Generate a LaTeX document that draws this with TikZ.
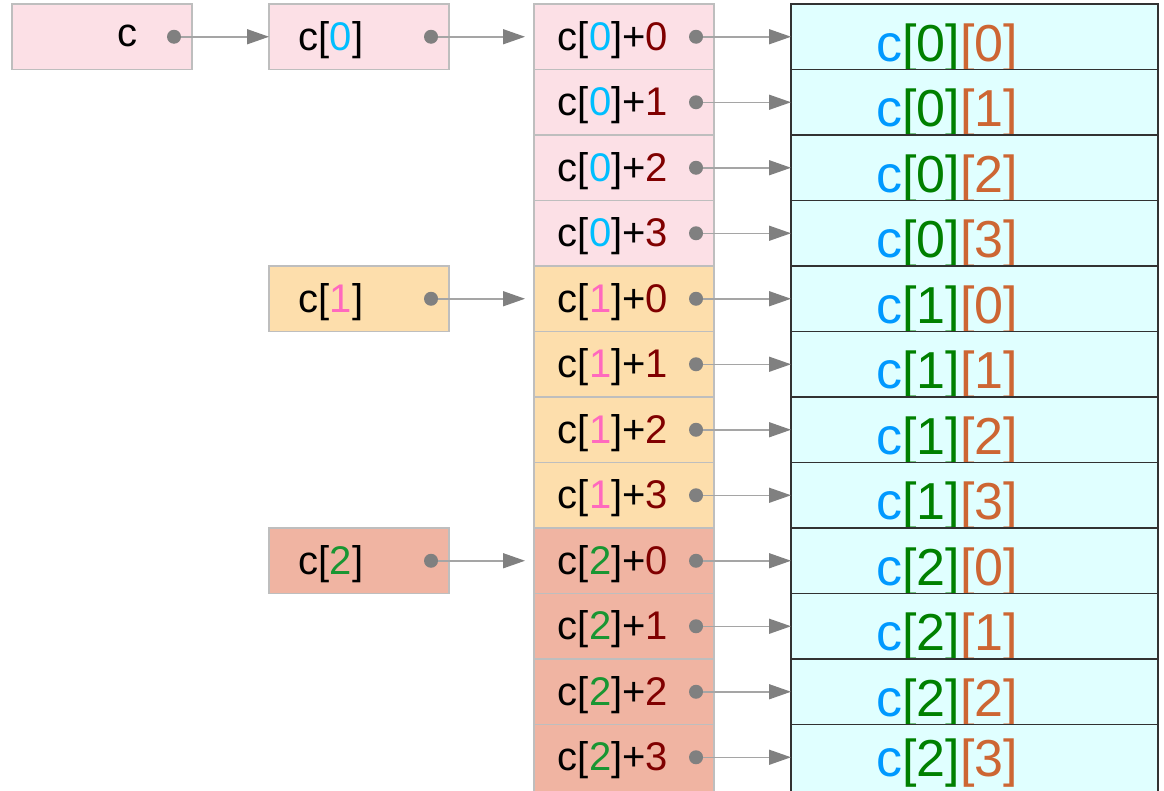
\documentclass[tikz,border=0pt]{standalone}
\usepackage{fontspec}
\setmainfont{Liberation Sans}
\usetikzlibrary{arrows.meta}
\definecolor{bgpink}{RGB}{252,224,230}
\definecolor{bgorange}{RGB}{253,222,172}
\definecolor{bgsalmon}{RGB}{240,180,162}
\definecolor{bgcyan}{RGB}{224,255,255}
\definecolor{cellline}{RGB}{190,190,190}
\definecolor{darkline}{RGB}{50,50,50}
\definecolor{ptrgray}{RGB}{128,128,128}
\definecolor{linegray}{RGB}{165,165,165}
\definecolor{idxa}{RGB}{0,190,255}
\definecolor{idxb}{RGB}{255,105,190}
\definecolor{idxc}{RGB}{25,150,50}
\definecolor{offs}{RGB}{128,0,0}
\definecolor{rblue}{RGB}{0,153,255}
\definecolor{rgreen}{RGB}{0,128,0}
\definecolor{rorange}{RGB}{205,102,51}
\begin{document}
\begin{tikzpicture}[x=1pt,y=-1pt,
  cellbox/.style={draw=cellline, line width=1.2pt, minimum width=180pt, minimum height=65.5pt, inner sep=0pt, outer sep=0pt, anchor=north west},
  rbox/.style={draw=darkline, line width=1.2pt, fill=bgcyan, minimum width=367pt, minimum height=65.5pt, inner sep=0pt, outer sep=0pt, anchor=north west},
  midtxt/.style={font=\fontsize{40}{44}\selectfont, anchor=base, inner sep=0pt},
  bigtxt/.style={font=\fontsize{52}{56}\selectfont, anchor=base, inner sep=0pt},
  dotmark/.style={circle, fill=ptrgray, minimum size=14pt, inner sep=0pt, outer sep=0pt},
  ptr/.style={draw=linegray, line width=1.5pt, -{Triangle[length=22pt,width=15pt,color=ptrgray]}},
]
\useasboundingbox (0,0) rectangle (1164,790);

% right column
\foreach \g in {0,1,2}{
  \foreach \k in {0,...,3}{
    \pgfmathtruncatemacro\rr{4*\g+\k}
    \pgfmathsetmacro\ytop{4+65.5*\rr}
    \pgfmathsetmacro\boff{\rr==11 ? 52 : 57}
    \pgfmathsetmacro\hh{\rr==11 ? 80 : 65.5}
    \node[rbox, minimum height=\hh pt] (r\rr) at (791,\ytop) {};
    \node[bigtxt] (rt\rr) at (947,\ytop+\boff) {{\color{rblue}c}{\color{rgreen}[\g]}{\color{rorange}[\k]}};
  }
}

% middle column
\foreach \g/\fc/\ic in {0/bgpink/idxa,1/bgorange/idxb,2/bgsalmon/idxc}{
  \foreach \k in {0,...,3}{
    \pgfmathtruncatemacro\rr{4*\g+\k}
    \pgfmathsetmacro\ytop{4+65.5*\rr}
    \pgfmathsetmacro\hh{\rr==11 ? 80 : 65.5}
    \node[cellbox, fill=\fc, minimum height=\hh pt] (m\rr) at (534,\ytop) {};
    \node[midtxt] (mt\rr) at (613,\ytop+46) {c[{\color{\ic}\g}]+{\color{offs}\k}};
    \node[dotmark] (dm\rr) at (696,\ytop+32.75) {};
    \coordinate (rin\rr) at (791,\ytop+32.75);
    \draw[ptr] (dm\rr.east) -- (rin\rr);
  }
}

% left pointer boxes
\foreach \g/\fc/\ic in {0/bgpink/idxa,1/bgorange/idxb,2/bgsalmon/idxc}{
  \pgfmathsetmacro\ytop{4+262*\g}
  \pgfmathtruncatemacro\rr{4*\g}
  \node[cellbox, fill=\fc] (p\g) at (269,\ytop) {};
  \node[midtxt] (pt\g) at (331,\ytop+46) {c[{\color{\ic}\g}]};
  \node[dotmark] (dp\g) at (431,\ytop+32.75) {};
  \coordinate (min\g) at (534,\ytop+32.75);
  \draw[ptr, shorten >=9pt] (dp\g.east) -- (min\g);
}

% c box
\node[cellbox, fill=bgpink] (cbox) at (12,4) {};
\node[midtxt] (ct) at (127,46) {c};
\node[dotmark] (dc) at (174,36.75) {};
\draw[ptr] (dc.east) -- (p0.west);
\end{tikzpicture}
\end{document}
